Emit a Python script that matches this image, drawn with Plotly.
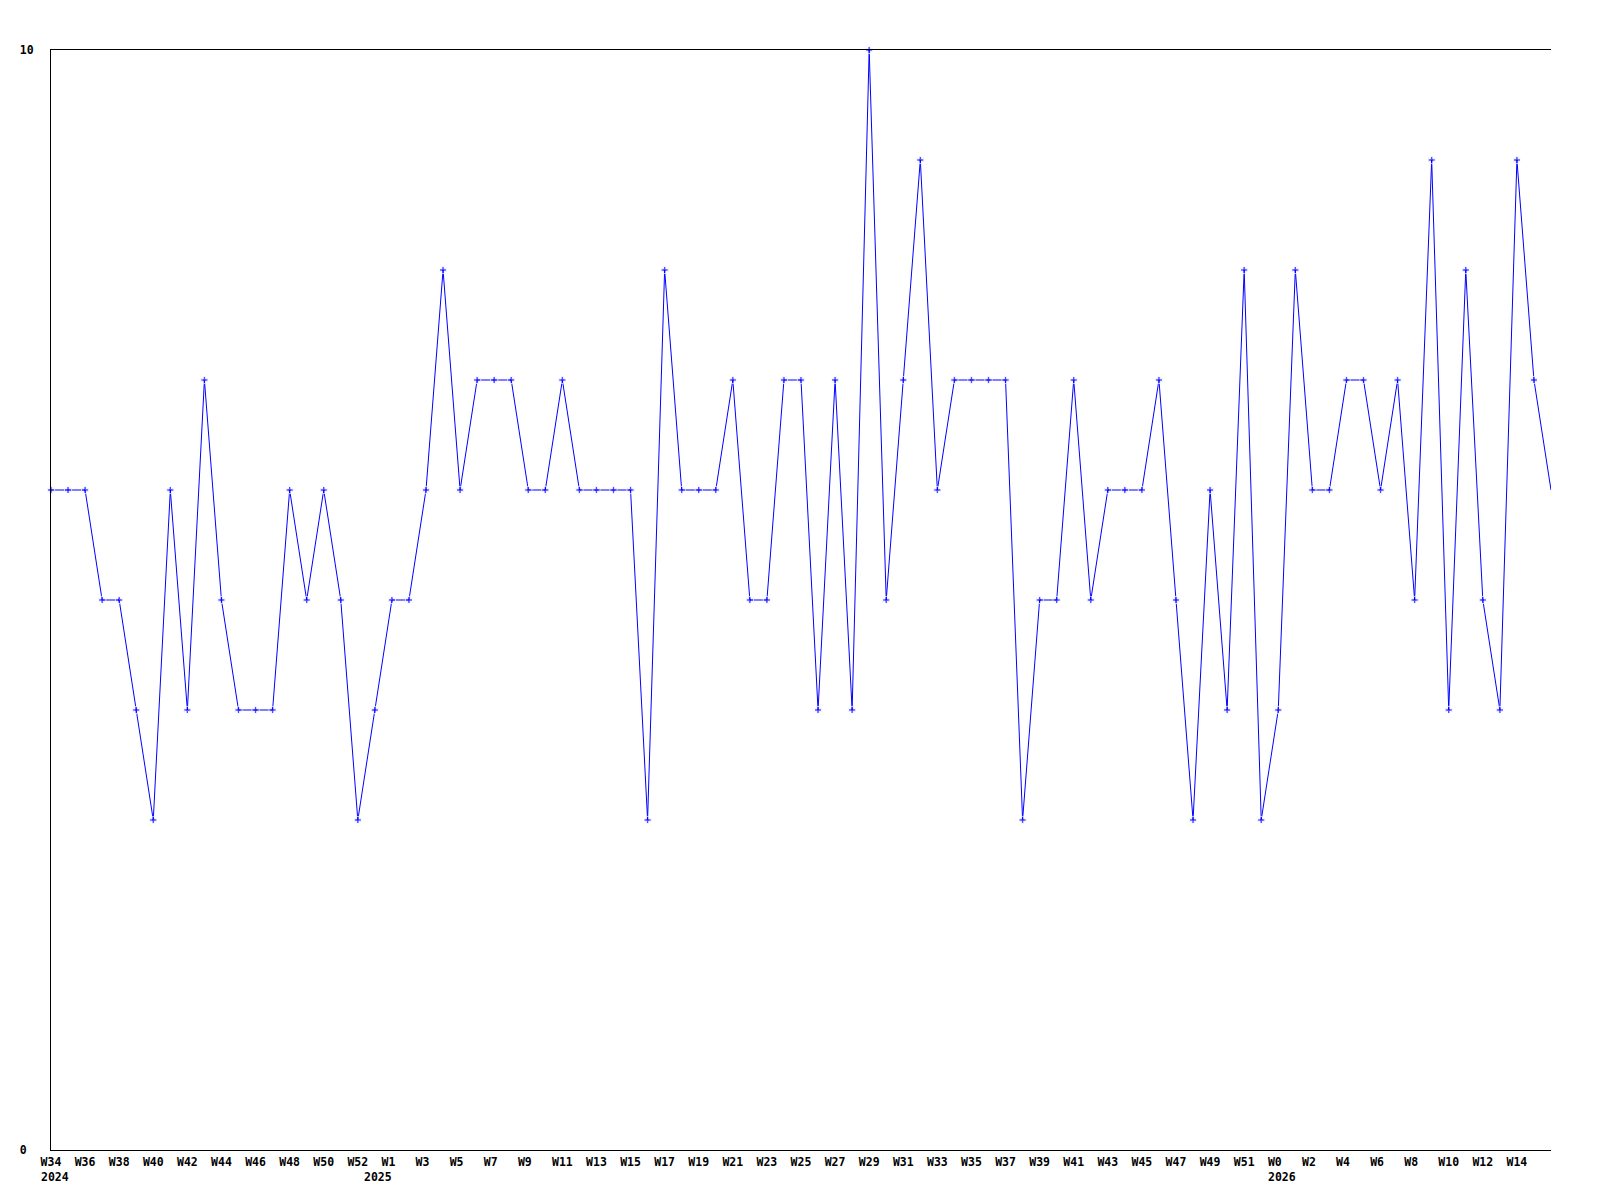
import plotly.graph_objects as go

# Weekly counts, one value per week starting at W34 2024
values = [6, 6, 6, 5, 5, 4, 3, 6, 4, 7, 5, 4, 4, 4, 6, 5, 6, 5, 3, 4, 5, 5, 6,
          8, 6, 7, 7, 7, 6, 6, 7, 6, 6, 6, 6, 3, 8, 6, 6, 6, 7, 5, 5, 7, 7, 4, 7, 4,
          10, 5, 7, 9, 6, 7, 7, 7, 7, 3, 5, 5, 7, 5, 6, 6, 6, 7, 5, 3,
          6, 4, 8, 3, 4, 8, 6, 6, 7, 7, 6, 7, 5, 9, 4, 8, 5, 4, 9, 7, 6]

# Week labels shown on the x axis (every second week)
tick_labels = ["W34", "W36", "W38", "W40", "W42", "W44", "W46", "W48", "W50", "W52",
               "W1", "W3", "W5", "W7", "W9", "W11", "W13", "W15", "W17", "W19",
               "W21", "W23", "W25", "W27", "W29", "W31", "W33", "W35",
               "W37", "W39", "W41", "W43", "W45", "W47", "W49", "W51",
               "W0", "W2", "W4", "W6", "W8", "W10", "W12", "W14"]

# Year labels and the week (point index) where each year starts
years = ["2024", "2025", "2026"]
year_week_index = [0, 19, 72]

y_ticks = [0, 10]
y_labels = ["0\u00a0", "10"]

FONT = dict(family="DejaVu Sans Mono", size=11.5, color="black", weight="bold")

x = list(range(len(values)))

# A label every second week
tick_pos = [2 * k for k in range(len(tick_labels))]
# Monospace padding so short labels start at the same offset as long ones
tick_text = [t.ljust(3, "\u00a0") for t in tick_labels]

fig = go.Figure()

fig.add_trace(go.Scatter(
    x=x,
    y=values,
    mode="lines+markers",
    line=dict(color="#0000ff", width=1),
    # The last point has no marker
    marker=dict(symbol="cross", size=[6] * (len(values) - 1) + [0], color="#0000ff"),
    cliponaxis=False,
    hoverinfo="skip",
))

annotations = []
for year, idx in zip(years, year_week_index):
    annotations.append(dict(
        x=idx, y=0, xref="x", yref="paper",
        text=year, showarrow=False,
        xanchor="left", yanchor="top",
        xshift=-12.5, yshift=-18,
        font=FONT,
    ))

# The page body has an 8px margin, so the figure is a bit smaller than the window
fig.update_layout(
    width=1584,
    height=1184,
    margin=dict(l=43, r=41, t=42, b=42, pad=0),
    plot_bgcolor="white",
    paper_bgcolor="white",
    showlegend=False,
    xaxis=dict(
        range=[0, len(values) - 1],
        tickmode="array",
        tickvals=tick_pos,
        ticktext=tick_text,
        tickangle=0,
        ticks="",
        showgrid=False,
        zeroline=False,
        showline=True,
        mirror=True,  # bottom and top frame lines
        linecolor="black",
        linewidth=1,
        tickfont=FONT,
        ticklabelstandoff=1,
        automargin=False,
    ),
    yaxis=dict(
        range=[0, 10],
        tickmode="array",
        tickvals=y_ticks,
        ticktext=y_labels,
        ticks="",
        showgrid=False,
        zeroline=False,
        showline=True,
        linecolor="black",
        linewidth=1,
        tickfont=FONT,
        ticklabelstandoff=14,
        automargin=False,
    ),
    annotations=annotations,
)

fig.write_html("out.html")
